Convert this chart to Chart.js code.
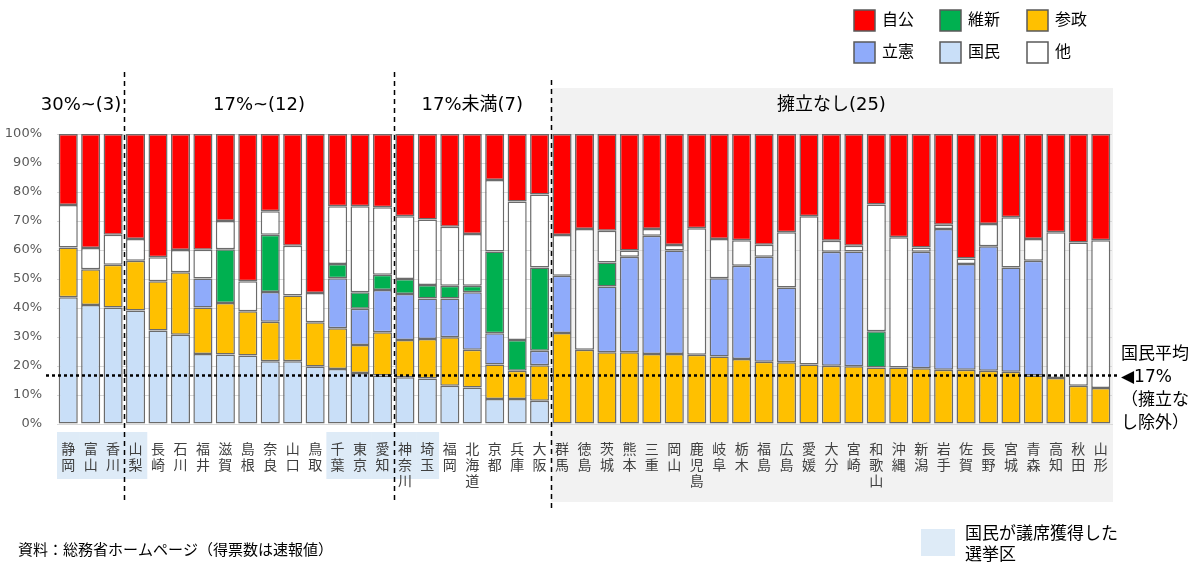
<!DOCTYPE html>
<html lang="ja">
<head>
<meta charset="utf-8">
<script src="https://cdn.jsdelivr.net/npm/chart.js@4.4.1/dist/chart.umd.min.js"></script>
<style>
html, body { margin: 0; padding: 0; background: #fff; }
</style>
</head>
<body>
<canvas id="grafico" width="1200" height="574"></canvas>
<script>
const prefectures = ['静岡','富山','香川','山梨','長崎','石川','福井','滋賀','島根','奈良','山口','鳥取','千葉','東京','愛知','神奈川','埼玉','福岡','北海道','京都','兵庫','大阪',
    '群馬','徳島','茨城','熊本','三重','岡山','鹿児島','岐阜','栃木','福島','広島','愛媛','大分','宮崎','和歌山','沖縄','新潟','岩手','佐賀','長野','宮城','青森','高知','秋田','山形'];

// 得票率 (%), 下から 国民・参政・立憲・維新・他・自公
const kokumin = [43.7,41.0,40.2,39.1,32.2,30.8,24.1,24.0,23.6,21.6,21.6,19.8,19.0,17.6,16.7,16.1,15.7,13.2,12.6,8.6,8.6,8.0,
    0,0,0,0,0,0,0,0,0,0,0,0,0,0,0,0,0,0,0,0,0,0,0,0,0];
const sansei = [17.2,12.4,14.7,17.2,17.0,21.5,16.1,17.7,15.3,13.7,22.7,15.3,14.0,9.6,14.9,12.9,13.6,16.7,13.0,11.9,9.8,12.3,
    31.4,25.6,24.7,24.7,24.1,24.1,23.9,23.3,22.4,21.5,21.3,20.5,20.1,19.9,19.5,19.5,19.2,18.7,18.7,18.4,18.0,16.7,15.9,13.2,12.4];
const rikken = [0,0,0,0,0,0,10.0,0,0,10.2,0,0,17.3,12.5,14.6,15.8,14.0,13.4,19.8,10.8,0,5.0,
    19.7,0,22.7,33.0,40.8,35.7,0,27.0,32.2,36.2,25.8,0,39.3,39.6,0,0,40.2,48.5,36.5,42.9,36.0,39.6,0,0,0];
const ishin = [0,0,0,0,0,0,0,18.6,0,19.8,0,0,4.9,5.7,5.3,5.2,4.6,4.4,2.3,28.2,10.6,28.7,
    0,0,8.3,0,0,0,0,0,0,0,0,0,0,0,12.5,0,0,0,0,0,0,0,0,0,0];
const sonota = [14.6,7.3,10.4,7.5,8.3,7.7,9.9,9.7,10.3,8.1,17.2,10.1,19.9,29.7,23.2,21.6,22.6,20.3,17.8,24.6,47.7,25.1,
    14.1,41.6,10.9,2.1,2.3,1.9,43.6,13.5,8.8,4.1,19.0,51.1,3.8,2.0,43.7,44.9,1.5,1.5,1.9,7.7,17.3,7.5,50.2,49.4,51.0];
const jiko = [24.5,39.3,34.7,36.2,42.5,40.0,39.9,30.0,50.8,26.6,38.5,54.8,24.9,24.9,25.3,28.4,29.5,32.0,34.5,15.9,23.3,20.9,
    34.8,32.8,33.4,40.2,32.8,38.3,32.5,36.2,36.6,38.2,33.9,28.4,36.8,38.5,24.3,35.6,39.1,31.3,42.9,31.0,28.7,36.2,33.9,37.4,36.6];

const groupNames = ['30%~(3)', '17%~(12)', '17%未満(7)', '擁立なし(25)'];
const groupEnds = [2, 14, 21, 46];
const kokuminWin = ['静岡','富山','香川','山梨','千葉','東京','愛知','神奈川','埼玉'];
const kokuminAvg = 16.7;
const legendOrder = ['自公','維新','参政','立憲','国民','他'];

const FONT = "'DejaVu Sans', 'Noto Sans CJK JP', sans-serif";
Chart.defaults.font.family = FONT;

function font(size) {
    return size + 'px ' + FONT;
}

const extras = {
    id: 'extras',
    beforeDraw(chart) {
        const {ctx, chartArea, scales: {x}} = chart;
        const half = x.width / prefectures.length / 2;
        ctx.save();
        // 擁立なし の背景
        ctx.fillStyle = '#f2f2f2';
        const left = x.getPixelForValue(groupEnds[2]) + half;
        ctx.fillRect(left, 88, chartArea.right + 1 - left, 414);
        // 国民が議席獲得した選挙区
        ctx.fillStyle = '#deebf7';
        kokuminWin.forEach(p => {
            const i = prefectures.indexOf(p);
            const px = x.getPixelForValue(i);
            ctx.fillRect(px - half, 432, half * 2 + 0.5, 47);
        });
        ctx.restore();
    },
    afterDatasetsDraw(chart) {
        const {ctx, scales: {x, y}} = chart;
        const half = x.width / prefectures.length / 2;
        ctx.save();
        ctx.strokeStyle = '#000';
        ctx.lineWidth = 1.5;
        ctx.setLineDash([5, 4]);
        const tops = [72, 72, 80];
        const bottoms = [502, 502, 510];
        for (let i = 0; i < 3; i++) {
            const px = Math.round(x.getPixelForValue(groupEnds[i]) + half) + 0.5;
            ctx.beginPath();
            ctx.moveTo(px, tops[i]);
            ctx.lineTo(px, bottoms[i]);
            ctx.stroke();
        }
        // 国民平均
        ctx.lineWidth = 2.5;
        ctx.setLineDash([3, 3]);
        const py = y.getPixelForValue(kokuminAvg);
        ctx.beginPath();
        ctx.moveTo(46, py);
        ctx.lineTo(1118, py);
        ctx.stroke();
        ctx.restore();
    },
    afterDraw(chart) {
        const {ctx, chartArea, scales: {x}} = chart;
        const half = x.width / prefectures.length / 2;
        ctx.save();
        ctx.fillStyle = '#000';
        ctx.textBaseline = 'middle';
        ctx.textAlign = 'center';
        ctx.font = font(18);
        let start = 0;
        groupNames.forEach((g, i) => {
            const a = x.getPixelForValue(start) - half;
            const b = x.getPixelForValue(groupEnds[i]) + half;
            const w = ctx.measureText(g).width;
            let cx = (a + b) / 2;
            if (cx + w / 2 > b - 3) cx = b - 3 - w / 2;
            ctx.fillText(g, cx, 105);
            start = groupEnds[i] + 1;
        });

        // 凡例
        ctx.textAlign = 'left';
        ctx.font = font(16);
        const cols = [854, 940, 1027];
        const rows = [10, 42];
        legendOrder.forEach((name, i) => {
            const ds = chart.data.datasets.find(d => d.label === name);
            const lx = cols[i % 3];
            const ly = rows[Math.floor(i / 3)];
            ctx.fillStyle = ds.backgroundColor;
            ctx.fillRect(lx, ly, 21, 21);
            ctx.strokeStyle = '#595959';
            ctx.lineWidth = 1.5;
            ctx.strokeRect(lx, ly, 21, 21);
            ctx.fillStyle = '#000';
            ctx.fillText(name, lx + 28, ly + 11);
        });

        // 平均の注記
        ctx.font = font(17);
        const tx = chartArea.right + 9;
        ctx.fillText('国民平均', tx, 355);
        ctx.fillText('◀17%', tx, 378);
        ctx.fillText('（擁立な', tx, 401);
        ctx.fillText('し除外）', tx, 424);

        ctx.font = font(15);
        ctx.fillText('資料：総務省ホームページ（得票数は速報値）', 18, 551);

        ctx.fillStyle = '#deebf7';
        ctx.fillRect(921, 529, 34, 27);
        ctx.fillStyle = '#000';
        ctx.font = font(17);
        ctx.fillText('国民が議席獲得した', 965, 535);
        ctx.fillText('選挙区', 965, 556);
        ctx.restore();
    }
};

const grafico = new Chart(document.getElementById('grafico'), {
    type: 'bar',
    data: {
        labels: prefectures.map(p => p.split('')),
        datasets: [
            { label: '国民', data: kokumin, backgroundColor: '#c9dff8' },
            { label: '参政', data: sansei, backgroundColor: '#ffc000' },
            { label: '立憲', data: rikken, backgroundColor: '#8fabfa' },
            { label: '維新', data: ishin, backgroundColor: '#00b050' },
            { label: '他', data: sonota, backgroundColor: '#ffffff' },
            { label: '自公', data: jiko, backgroundColor: '#ff0000' }
        ]
    },
    options: {
        responsive: false,
        animation: false,
        layout: { padding: { top: 134, right: 88, left: 0, bottom: 0 } },
        plugins: {
            legend: { display: false },
            tooltip: { enabled: false }
        },
        datasets: {
            bar: {
                barPercentage: 0.85,
                categoryPercentage: 1,
                borderWidth: 1.5,
                borderColor: '#6b6b6b',
                borderSkipped: false
            }
        },
        scales: {
            x: {
                stacked: true,
                grid: { display: false },
                border: { color: '#d9d9d9' },
                ticks: {
                    autoSkip: false,
                    maxRotation: 0,
                    color: '#404040',
                    padding: 10,
                    font: { size: 14, lineHeight: '16px' }
                },
                afterFit: s => { s.height = 150; }
            },
            y: {
                stacked: true,
                min: 0,
                max: 100,
                ticks: {
                    stepSize: 10,
                    callback: v => v + '%',
                    color: '#595959',
                    padding: 15,
                    font: { size: 13 }
                },
                grid: { color: '#d9d9d9', drawTicks: false },
                border: { display: false },
                afterFit: s => { s.width = 57; }
            }
        }
    },
    plugins: [extras]
});
</script>
</body>
</html>
